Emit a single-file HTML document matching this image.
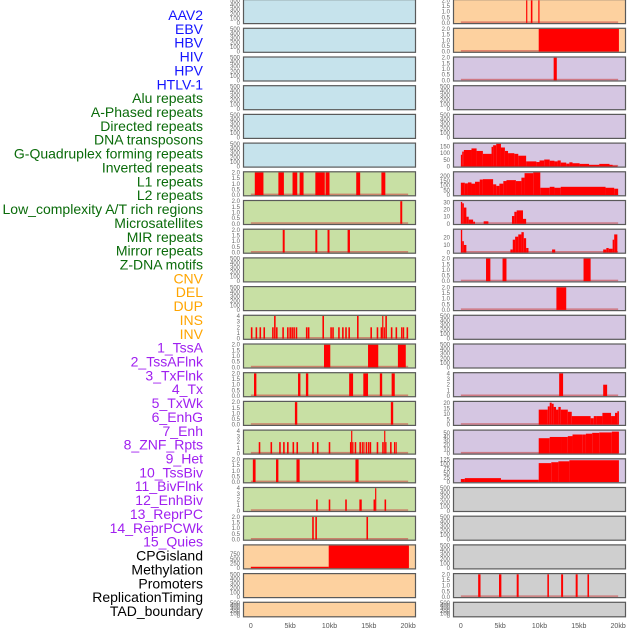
<!DOCTYPE html>
<html><head><meta charset="utf-8"><style>
html,body{margin:0;padding:0;background:#fff;}
svg{display:block;font-family:"Liberation Sans",sans-serif;}
</style></head><body>
<svg id="chart" width="630" height="630" viewBox="0 0 630 630" xmlns="http://www.w3.org/2000/svg">
<g id="labels"></g>
<g id="panels"></g>
<g id="xaxes"></g>
</svg>
<script>
// ---------- data ----------
const trackNames = ["AAV2","EBV","HBV","HIV","HPV","HTLV-1","Alu repeats","A-Phased repeats","Directed repeats","DNA transposons","G-Quadruplex forming repeats","Inverted repeats","L1 repeats","L2 repeats","Low_complexity A/T rich regions","Microsatellites","MIR repeats","Mirror repeats","Z-DNA motifs","CNV","DEL","DUP","INS","INV","1_TssA","2_TssAFlnk","3_TxFlnk","4_Tx","5_TxWk","6_EnhG","7_Enh","8_ZNF_Rpts","9_Het","10_TssBiv","11_BivFlnk","12_EnhBiv","13_ReprPC","14_ReprPCWk","15_Quies","CPGisland","Methylation","Promoters","ReplicationTiming","TAD_boundary"];
const trackGroups = [0,0,0,0,0,0,1,1,1,1,1,1,1,1,1,1,1,1,1,2,2,2,2,2,3,3,3,3,3,3,3,3,3,3,3,3,3,3,3,4,4,4,4,4];
const groupColors = ["#1414ff","#0a6b0a","#ffa500","#a020f0","#000000"];
const xTickValues = [0,5,10,15,20];
const xTickLabels = ["0","5kb","10kb","15kb","20kb"];

// left column bars [startKb, endKb, value]
const L6 = [[0.5,1.6,2],[3.5,4.2,2],[5.3,5.9,2],[6.2,6.7,2],[8.2,9.4,2],[9.5,10.0,2],[13.4,13.9,2],[16.6,17.1,2]];
const L7 = [[19.0,19.25,2]];
const L8 = [[4.05,4.3,2],[8.2,8.45,2],[9.75,10.0,2],[12.3,12.6,2]];
const L11 = [[0,0.2,2],[0.6,0.8,2],[1.1,1.3,2],[1.6,1.8,2],[2.7,2.9,2],[2.95,3.15,4],[3.2,3.4,2],[4.0,4.2,2],[4.6,4.8,2],[4.9,5.1,2],[5.15,5.35,2],[5.4,5.6,2],[5.7,5.9,2],[7.0,7.2,2],[7.25,7.45,2],[9.1,9.3,4],[10.1,10.3,2],[10.35,10.55,2],[11.1,11.3,2],[11.6,11.8,2],[12.0,12.2,2],[12.4,12.6,2],[13.5,13.7,4],[15.2,15.4,2],[16.0,16.2,2],[16.5,16.7,2],[16.7,16.85,4],[16.9,17.05,2],[17.1,17.3,4],[17.8,18.0,2],[18.4,18.6,2],[19.1,19.3,2],[19.35,19.5,2],[19.8,20.0,2]];
const L12 = [[9.3,10.1,2],[14.9,16.2,2],[18.7,19.7,2]];
const L13 = [[0.4,0.7,2],[6.0,6.3,2],[7.0,7.3,2],[12.5,13.0,2],[14.3,14.9,2],[16.4,16.7,2],[17.9,18.3,2]];
const L14 = [[5.6,5.9,2],[17.8,18.1,2]];
const L15 = [[1.0,1.2,2],[2.5,2.7,2],[3.6,3.8,2],[4.1,4.3,2],[4.6,4.8,2],[5.3,5.5,2],[5.8,6.0,2],[7.8,8.0,2],[8.4,8.6,2],[9.9,10.1,2],[12.6,12.75,2],[12.75,12.9,4],[12.9,13.05,2],[13.2,13.4,2],[13.8,14.0,2],[14.1,14.25,2],[14.3,14.45,2],[14.6,14.8,2],[14.9,15.05,2],[15.1,15.3,2],[16.0,16.2,2],[16.7,16.9,2],[16.95,17.1,4],[17.1,17.25,2],[17.7,17.9,2],[18.2,18.35,2],[18.4,18.55,2]];
const L16 = [[0.25,0.6,2],[3.2,3.5,2],[5.8,6.2,2],[13.3,13.7,2]];
const L17 = [[8.3,8.5,2],[9.9,10.1,2],[12.0,12.2,2],[13.8,14.1,2],[15.6,15.8,2],[15.8,15.95,4],[17.0,17.2,2]];
const L18 = [[7.8,8.0,2],[8.2,8.4,2],[14.7,14.9,2]];
const L19 = [[0,9.9,70],[9.9,20.1,1200]];

// right column
const R0 = [[8.3,8.45,2],[8.9,9.1,2],[9.85,10.0,2]];
const R1 = [[9.9,20.1,2]];
const R2 = [[11.8,12.2,2]];
const R5_breaks = [0,0.17,0.38,1.35,2.0,2.8,3.9,4.1,4.5,5.1,5.6,6.0,6.8,7.3,8.3,9.6,10.0,10.6,11.3,11.9,12.3,12.7,13.4,13.8,14.2,15.1,16.3,17.6,18.9,19.3,19.9];
const R5_vals = [88,112,124,136,117,95,148,160,171,143,117,100,95,81,38,33,45,52,43,38,45,29,21,31,24,19,12,19,12,5];
const R6_breaks = [0,0.5,0.9,1.35,1.8,2.4,2.8,4.1,4.5,4.9,5.4,5.8,7.0,7.7,8.1,9.2,10.1,11.3,11.9,12.7,18.4,19.5,20.0];
const R6_vals = [130,123,133,120,140,163,167,113,97,120,147,157,147,183,230,237,77,87,77,87,77,67];
const R7 = [[0,0.17,31],[0.17,0.38,29],[0.38,0.7,23],[0.7,1.0,10],[1.0,1.56,6],[1.56,1.8,3],[2.9,3.5,3.5],[6.5,6.8,11],[6.8,7.1,17],[7.1,7.9,19],[7.9,8.3,7]];
const R8 = [[0,0.17,30],[0.17,0.38,15],[0.38,0.7,10],[6.3,6.6,4],[6.6,6.9,17],[6.9,7.3,21],[7.3,7.7,24],[7.7,8.0,27],[8.0,8.3,19],[8.3,8.6,6],[11.6,12.0,4],[18.1,18.5,4],[18.5,18.8,6],[18.8,19.3,5],[19.3,19.5,17],[19.5,19.9,24]];
const R9 = [[3.2,3.75,2],[5.3,5.8,2],[15.6,16.5,2]];
const R10 = [[12.15,13.4,2]];
const R13 = [[12.5,13.0,4],[18.1,18.6,2]];
const R14_breaks = [9.9,11.05,11.3,11.55,11.8,12.1,12.4,12.7,13.6,14.1,16.5,16.9,17.2,18.0,19.1,19.6,19.9,20.1];
const R14_vals = [14,17,20.5,19.5,16.5,14,16.5,14,12,8,6,8,8,11,8,11,12.5];
const R15_breaks = [9.9,11.3,12.8,13.6,14.2,15.5,15.9,16.7,17.6,19.2,20.1];
const R15_vals = [37,40,40,42,46,46,48,50,51,53];
const R16_breaks = [0,0.5,5.1,9.9,11.5,12.4,13.8,20.1];
const R16_vals = [17,22,13,105,110,115,121];
const R20 = [[2.2,2.5,2],[4.85,5.15,2],[7.1,7.35,2],[11.0,11.2,2],[12.75,13.0,2],[14.6,14.85,2],[16.1,16.3,2]];

const T500 = [0,100,200,300,400,500];
const T2 = [0,0.5,1,1.5,2];
const T4 = [0,1,2,3,4];

// ---------- helpers ----------
const NS = "http://www.w3.org/2000/svg";
function mk(tag, attrs, parent){const e=document.createElementNS(NS,tag);for(const k in attrs)e.setAttribute(k,attrs[k]);parent.appendChild(e);return e;}
function profile(breaks, vals){const out=[];for(let i=0;i<vals.length;i++)out.push([breaks[i],breaks[i+1],vals[i]]);return out;}

const BLUE="#c6e3ec",GREEN="#c8e0a4",ORANGE="#fdd19f",PURPLE="#d5c6e2",GRAY="#cfcfcf";
const EMPTY = {ymax:500,ticks:T500,segs:null};
function P(bg,ymax,ticks,segs,fmt){return {bg,ymax,ticks,segs,fmt};}

const leftPanels = [
 P(BLUE,500,T500,null),P(BLUE,500,T500,null),P(BLUE,500,T500,null),P(BLUE,500,T500,null),P(BLUE,500,T500,null),P(BLUE,500,T500,null),
 P(GREEN,2,T2,L6,1),P(GREEN,2,T2,L7,1),P(GREEN,2,T2,L8,1),P(GREEN,500,T500,null),P(GREEN,500,T500,null),
 P(GREEN,4,T4,L11),P(GREEN,2,T2,L12,1),P(GREEN,2,T2,L13,1),P(GREEN,2,T2,L14,1),P(GREEN,4,T4,L15),P(GREEN,2,T2,L16,1),P(GREEN,4,T4,L17),P(GREEN,2,T2,L18,1),
 P(ORANGE,1200,[0,250,500,750],L19),P(ORANGE,500,T500,null),P(ORANGE,500,T500,null)
];
const rightPanels = [
 P(ORANGE,2,T2,R0,1),P(ORANGE,2,T2,R1,1),P(PURPLE,2,T2,R2,1),P(PURPLE,500,T500,null),P(PURPLE,500,T500,null),
 P(PURPLE,171,[0,50,100,150],profile(R5_breaks,R5_vals)),
 P(PURPLE,237,[0,50,100,150,200],profile(R6_breaks,R6_vals)),
 P(PURPLE,32,[0,10,20,30],R7),P(PURPLE,30,[0,10,20],R8),
 P(PURPLE,2,T2,R9,1),P(PURPLE,2,T2,R10,1),P(PURPLE,500,T500,null),P(PURPLE,500,T500,null),
 P(PURPLE,4,T4,R13),P(PURPLE,21,[0,5,10,15,20],profile(R14_breaks,R14_vals)),
 P(PURPLE,55,[0,10,20,30,40,50],profile(R15_breaks,R15_vals)),
 P(PURPLE,125,[0,25,50,75,100,125],profile(R16_breaks,R16_vals)),
 P(GRAY,500,T500,null),P(GRAY,500,T500,null),P(GRAY,500,T500,null),P(GRAY,2,T2,R20,1),P(GRAY,500,T500,null)
];

// ---------- labels ----------
const lg = document.getElementById("labels");
trackNames.forEach((n,i)=>{
  const t = mk("text",{x:203,y:20+i*13.86,"text-anchor":"end","font-size":"14",fill:groupColors[trackGroups[i]]},lg);
  
  
  t.textContent = n;
});

// ---------- panels ----------
const pg = document.getElementById("panels");
function drawColumn(panels, x0, colName){
  const W = 173;
  const xs = kb => x0 + (kb+1)*W/22;
  panels.forEach((p,r)=>{
    const top = -0.9 + r*28.7;
    const h = r===21 ? 15.5 : 25;
    const bottom = top + h;
    const ys = v => bottom - 1.2 - v/p.ymax*(h-2.4);
    const g = mk("g",{},pg);
    
    
    mk("rect",{x:x0,y:top,width:W,height:h,fill:p.bg,stroke:"none"},g);
    if(p.segs){
      mk("rect",{x:xs(0),y:ys(0)-1.5,width:xs(20)-xs(0),height:1.5,fill:"#c44",opacity:"0.6"},g);
      p.segs.forEach(s=>{
        const b = mk("rect",{x:xs(s[0]),y:ys(s[2]),width:Math.max(1,xs(s[1])-xs(s[0])),height:ys(0)-ys(s[2]),fill:"#ff0000"},g);
        
        
      });
    }
    mk("rect",{x:x0+0.5,y:top+0.5,width:W-1,height:h-1,fill:"none",stroke:"#5a5a5a","stroke-width":"1.2"},g);
    p.ticks.forEach(t=>{
      const tx = mk("text",{x:x0-3,y:ys(t)+2,"text-anchor":"end","font-size":"6",fill:"#666"},g);
      
      
      tx.textContent = p.fmt ? t.toFixed(1) : String(t);
    });
  });
  const ax = document.getElementById("xaxes");
  xTickValues.forEach((v,i)=>{
    const t = mk("text",{x:xs(v),y:628,"text-anchor":"middle","font-size":"7",fill:"#555"},ax);
    
    
    t.textContent = xTickLabels[i];
  });
}
drawColumn(leftPanels, 243, "left");
drawColumn(rightPanels, 453, "right");
</script>
</body></html>
